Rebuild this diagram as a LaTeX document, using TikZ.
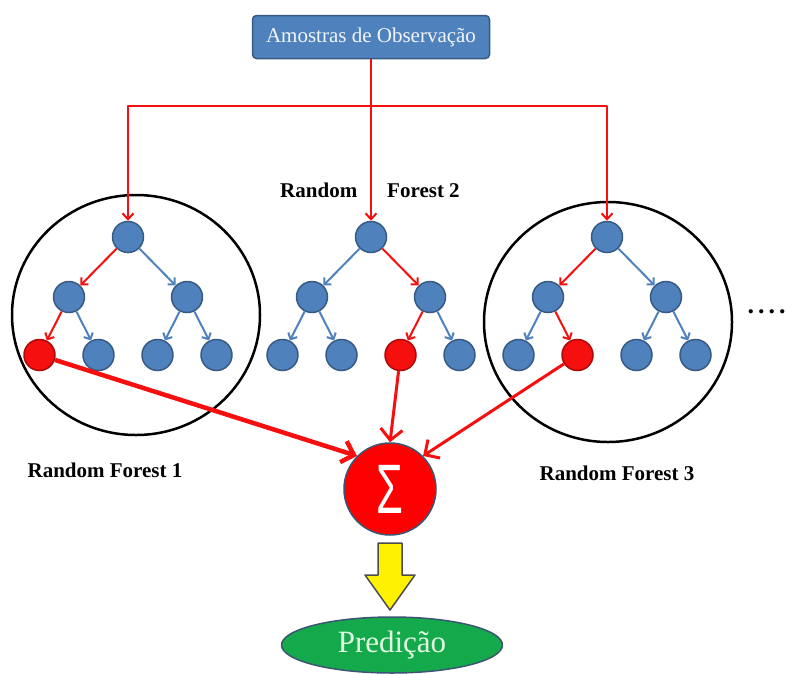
\documentclass[tikz,border=0pt]{standalone}
\usepackage{fontspec}
\setmainfont{Liberation Serif}
\newfontfamily\sigmafont{Liberation Sans}
\usetikzlibrary{arrows.meta,shapes.geometric}
\definecolor{nodeblue}{RGB}{79,129,189}
\definecolor{pathred}{RGB}{245,15,15}
\definecolor{rimgray}{RGB}{60,85,115}
\definecolor{leafgreen}{RGB}{20,170,75}
\definecolor{paletext}{RGB}{225,250,225}

\begin{document}
\begin{tikzpicture}[x=1pt,y=-1pt,line join=round,
  nd/.style={circle,fill=#1,draw=#1!70!black,line width=1.5pt,minimum size=31pt,inner sep=0pt},
  br/.style={draw=#1,line width=2pt,-{Straight Barb[length=5pt,width=10pt]}},
  feed/.style={draw=pathred,line width=2pt,-{Straight Barb[length=6pt,width=11pt]}},
  vote/.style={draw=pathred,line width=#1,-{Straight Barb[length=11pt,width=22pt]}},
  title/.style={font=\fontsize{21}{24}\selectfont\bfseries}]
  \useasboundingbox (0,0) rectangle (787,673);
  % forests 1 and 3 are ringed
  \draw[line width=2.5pt] (136,315) ellipse [x radius=124, y radius=120];
  \draw[line width=2.5pt] (608,322) ellipse [x radius=124, y radius=120];
  % three trees, the chosen leaf of each in red
  \foreach \t/\x/\hit in {1/128/1,2/371/3,3/607/2}{
    \node[nd=nodeblue] (t\t) at (\x,237) {};
    \foreach \c in {1,2}{
      \pgfmathsetmacro\cx{\x+(2*\c-3)*59}
      \pgfmathparse{ifthenelse(int((\hit+1)/2)==\c,"pathred","nodeblue")}\let\cc\pgfmathresult
      \node[nd=nodeblue] (t\t-\c) at (\cx,297) {};
      \draw[br=\cc] (t\t) -- (t\t-\c);
      \foreach \l in {1,2}{
        \pgfmathsetmacro\lx{\cx+(2*\l-3)*29.5}
        \pgfmathparse{ifthenelse(2*\c+\l-2==\hit,"pathred","nodeblue")}\let\lc\pgfmathresult
        \node[nd=\lc] (t\t-\c\l) at (\lx,355) {};
        \draw[br=\lc] (t\t-\c) -- (t\t-\c\l);
      }
    }
  }
  % samples fed to every tree
  \node[rectangle,rounded corners=4pt,fill=nodeblue,draw=nodeblue!70!black,line width=1.5pt,
    minimum width=237pt,minimum height=43pt,text=white!92!nodeblue,
    font=\fontsize{21}{24}\selectfont] (src) at (371,37) {Amostras de Observação};
  \coordinate (split) at (371,106);
  \draw[feed] (src) -- (t2);
  \draw[feed] (split) -| (t1);
  \draw[feed] (split) -| (t3);
  % labels
  \node[title] (rf1) at (105,470) {Random Forest 1};
  \node[title] (rf2) at (370,190) {Random\hspace{30pt}Forest 2};
  \node[title] (rf3) at (617,473) {Random Forest 3};
  \node[anchor=base west,font=\fontsize{26}{28}\selectfont\bfseries] (more) at (744,313) {.\hspace{4pt}.\hspace{4pt}.\hspace{4pt}.};
  % sum of the votes
  \node[circle,fill=red,draw=rimgray,line width=1.5pt,minimum size=92pt,inner sep=0pt,text=white,
    font=\sigmafont\fontsize{70}{70}\selectfont] (sum) at (390,489) {\scalebox{0.62}[1]{Σ}};
  \draw[vote=4.5pt] (t1-11) -- (sum.135);
  \draw[vote=3pt] (t2-21) -- (sum.north);
  \draw[vote=3pt] (t3-12) -- (sum.45);
  % result
  \node[ellipse,fill=leafgreen,draw=rimgray,line width=1.5pt,minimum width=221pt,minimum height=56pt,
    text=paletext,font=\fontsize{31}{33}\selectfont] (pred) at (392,645) {Predição};
  \filldraw[fill=yellow,draw=gray!60!black,line width=1.5pt] (378,543) -- (402,543) -- (402,575) -- (415,575)
    -- (390,610) -- (365,575) -- (378,575) -- cycle;
\end{tikzpicture}
\end{document}
